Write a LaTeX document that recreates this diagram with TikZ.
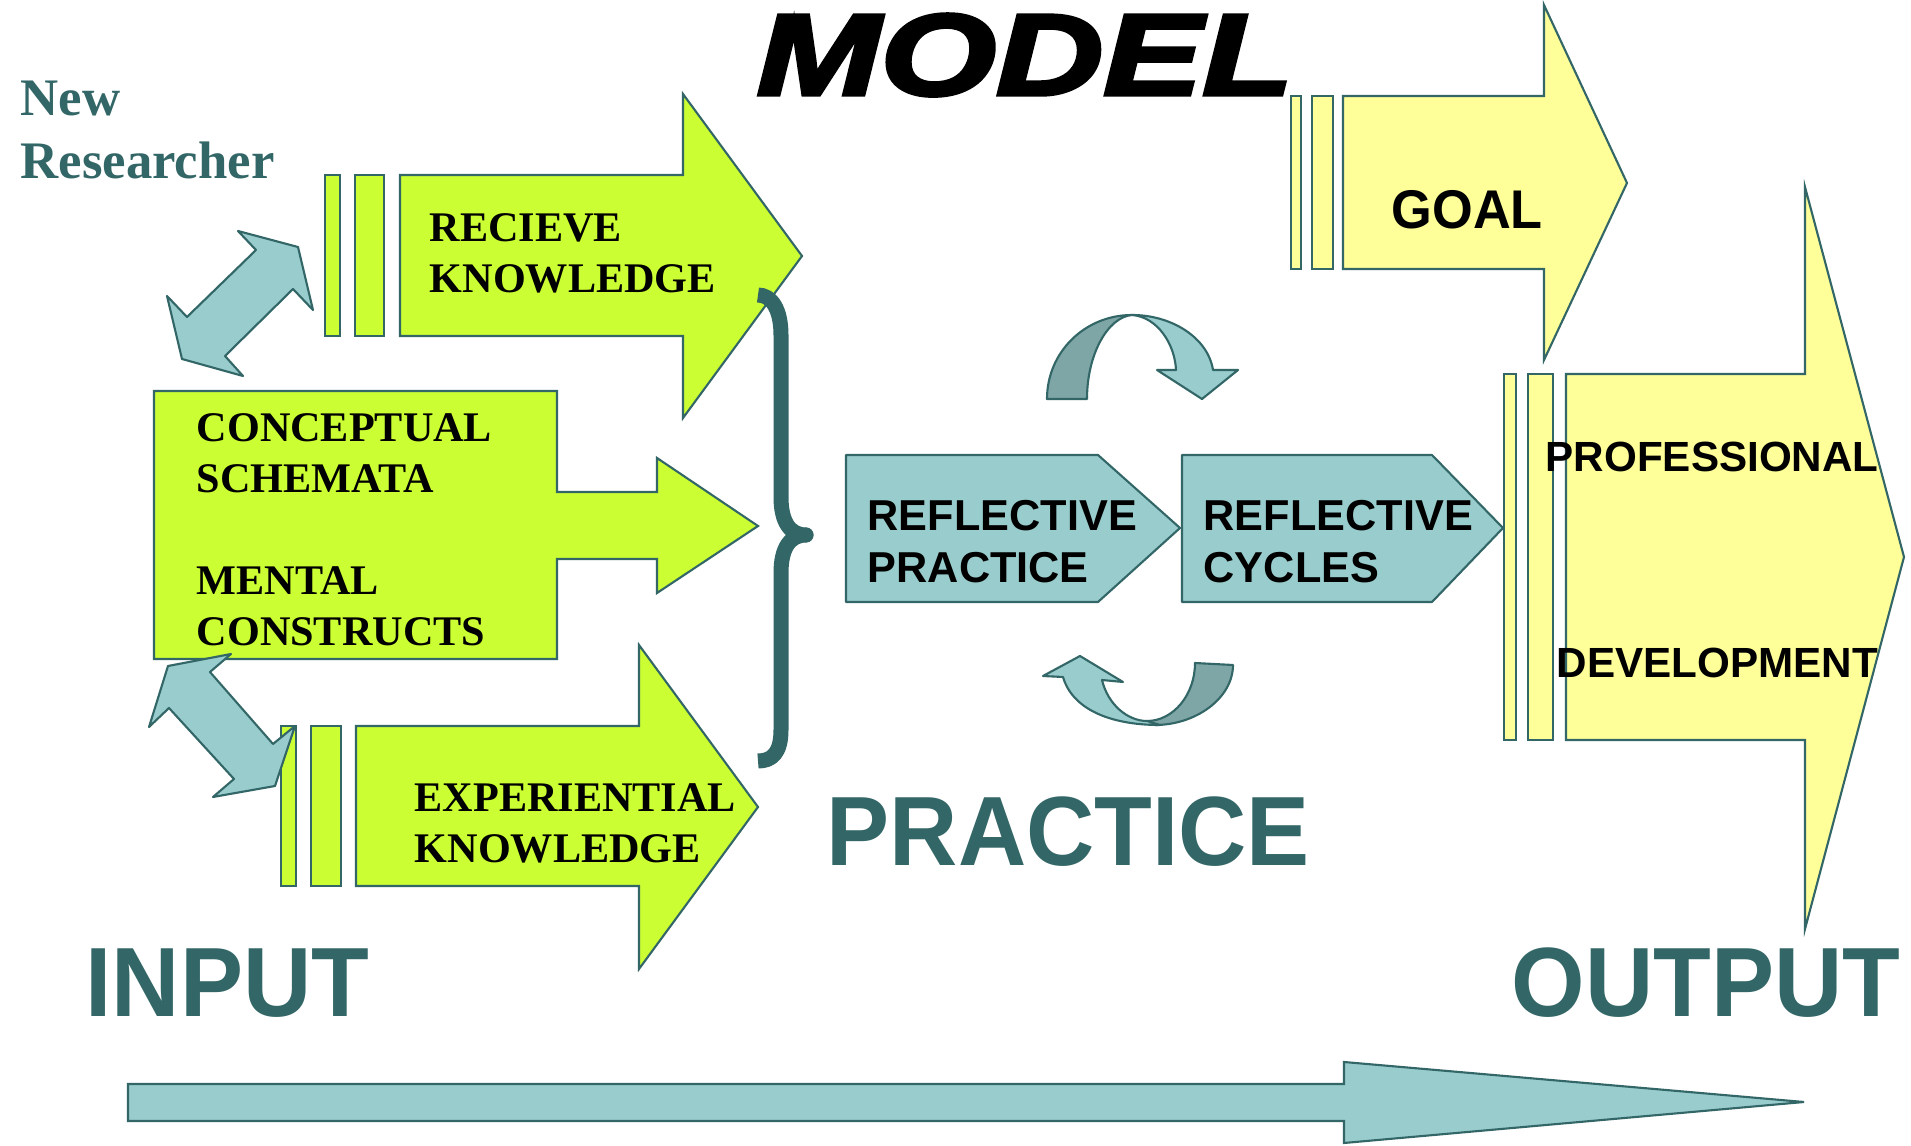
\documentclass[tikz,border=0pt]{standalone}
\usepackage{fontspec}
\usepackage{graphicx}
\setmainfont{Liberation Serif}
\setsansfont{Liberation Sans}
\newfontfamily\titlefont{Liberation Sans}[UprightFont={* Bold Italic}, FakeBold=3]
\usetikzlibrary{positioning}
\definecolor{limecolor}{RGB}{204,255,51}
\definecolor{goalcolor}{RGB}{255,255,153}
\definecolor{practicecolor}{RGB}{153,204,204}
\definecolor{ribboncolor}{RGB}{127,166,166}
\definecolor{edgecolor}{RGB}{51,102,102}

\begin{document}
\begin{tikzpicture}[
    x=0.01cm, y=-0.01cm,
    limeshape/.style={fill=limecolor, draw=edgecolor, line width=0.6pt},
    goalshape/.style={fill=goalcolor, draw=edgecolor, line width=0.6pt},
    tealshape/.style={fill=practicecolor, draw=edgecolor, line width=0.6pt, line join=round},
    ribbonshape/.style={fill=ribboncolor, draw=edgecolor, line width=0.6pt, line join=round},
    seriflabel/.style={inner sep=0pt, anchor=north west, align=left, font=\fontsize{12}{14.5}\selectfont\bfseries},
    sanslabel/.style={inner sep=0pt, anchor=north west, align=left, font=\fontsize{12.3}{14.8}\selectfont\sffamily\bfseries},
    bigword/.style={inner sep=0pt, anchor=base west, text=edgecolor, font=\fontsize{28}{32}\selectfont\sffamily\bfseries}
]

\fill[white] (0,0) rectangle (1911,1146);

% Title
\node[inner sep=0pt, anchor=base west, font=\fontsize{33}{36}\selectfont\titlefont] (model) at (756,95) {\scalebox{1.28}[1]{MODEL}};
\node[inner sep=0pt, anchor=north west, align=left, text=edgecolor, font=\fontsize{15}{17.9}\selectfont\bfseries] (researcher) at (20,80) {New\\Researcher};

% Input arrows
\draw[limeshape] (325,175) rectangle (340,336);
\draw[limeshape] (355,175) rectangle (384,336);
\draw[limeshape] (400,175) -- (683,175) -- (683,94) -- (802,256) -- (683,418) -- (683,336) -- (400,336) -- cycle;
\node[seriflabel] (recieve) at (429,213) {RECIEVE\\KNOWLEDGE};

\draw[limeshape] (154,391) -- (557,391) -- (557,492) -- (657,492) -- (657,458) -- (758,526) -- (657,593) -- (657,559) -- (557,559) -- (557,659) -- (154,659) -- cycle;
\node[seriflabel] (conceptual) at (196,413) {CONCEPTUAL\\SCHEMATA\\[14.5pt]MENTAL\\CONSTRUCTS};

\draw[limeshape] (281,726) rectangle (296,886);
\draw[limeshape] (311,726) rectangle (341,886);
\draw[limeshape] (356,726) -- (639,726) -- (639,645) -- (758,807) -- (639,969) -- (639,886) -- (356,886) -- cycle;
\node[seriflabel] (experiential) at (414,783) {EXPERIENTIAL\\KNOWLEDGE};

% Double arrows
\draw[tealshape] (238,231) -- (298,247) -- (313,310) -- (293,289) -- (225,356) -- (243,376) -- (182,359) -- (167,296) -- (187,317) -- (256,250) -- cycle;
\draw[tealshape] (231,654) -- (168,666) -- (149,727) -- (169,708) -- (234,779) -- (213,797) -- (275,786) -- (295,726) -- (273,744) -- (210,672) -- cycle;

% Brace
\draw[edgecolor, line width=0.15cm, line join=round] (758,295) .. controls (772,295) and (781,310) .. (781,335) -- (781,497) .. controls (781,522) and (790,535) .. (806,535) .. controls (790,535) and (781,548) .. (781,573) -- (781,730) .. controls (781,753) and (772,761) .. (758,761);
\fill[edgecolor] (806,535) circle[radius=0.075cm];

% Practice
\draw[tealshape] (846,455) -- (1098,455) -- (1180,528) -- (1098,602) -- (846,602) -- cycle;
\node[sanslabel] (refpractice) at (867,500) {REFLECTIVE\\PRACTICE};
\draw[tealshape] (1182,455) -- (1432,455) -- (1503,528) -- (1432,602) -- (1182,602) -- cycle;
\node[sanslabel] (refcycles) at (1203,500) {REFLECTIVE\\CYCLES};

% Cycle arrows
\draw[ribbonshape] (1047,399) .. controls (1047,352) and (1085,315) .. (1132,315) .. controls (1108,317) and (1087,354) .. (1087,399) -- cycle;
\draw[tealshape] (1132,315) .. controls (1172,315) and (1208,338) .. (1213,370) -- (1238,370) -- (1202,399) -- (1157,370) -- (1176,370) .. controls (1175,345) and (1158,317) .. (1132,315) -- cycle;

\draw[ribbonshape] (1147,721) .. controls (1173,721) and (1195,695) .. (1195,663) -- (1233,665) .. controls (1233,698) and (1196,725) .. (1155,725) -- cycle;
\draw[tealshape] (1063,677) -- (1043,676) -- (1080,656) -- (1123,682) -- (1102,680) .. controls (1108,705) and (1128,721) .. (1147,721) -- (1160,725) .. controls (1108,725) and (1072,708) .. (1063,677) -- cycle;

% Output arrows
\draw[goalshape] (1291,96) rectangle (1301,269);
\draw[goalshape] (1312,96) rectangle (1333,269);
\draw[goalshape] (1343,96) -- (1544,96) -- (1544,5) -- (1627,183) -- (1544,360) -- (1544,269) -- (1343,269) -- cycle;
\node[inner sep=0pt, anchor=north west, font=\fontsize{15.5}{18}\selectfont\sffamily\bfseries] (goal) at (1391,190) {\scalebox{0.96}[1]{GOAL}};

\draw[goalshape] (1504,374) rectangle (1516,740);
\draw[goalshape] (1528,374) rectangle (1553,740);
\draw[goalshape] (1566,374) -- (1805,374) -- (1805,187) -- (1904,557) -- (1805,929) -- (1805,740) -- (1566,740) -- cycle;
\node[inner sep=0pt, anchor=north west, font=\fontsize{12}{14}\selectfont\sffamily\bfseries] (professional) at (1545,441) {PROFESSIONAL};
\node[inner sep=0pt, anchor=north west, font=\fontsize{12}{14}\selectfont\sffamily\bfseries] (development) at (1556,647) {DEVELOPMENT};

% Layer labels
\node[bigword] (input) at (85,1017) {\scalebox{0.96}[1]{INPUT}};
\node[bigword] (practice) at (826,866) {\scalebox{0.96}[1]{PRACTICE}};
\node[bigword] (output) at (1511,1017) {\scalebox{0.96}[1]{OUTPUT}};

% Flow arrow
\draw[tealshape, line join=miter] (128,1084) -- (1344,1084) -- (1344,1062) -- (1804,1102) -- (1344,1143) -- (1344,1121) -- (128,1121) -- cycle;

\end{tikzpicture}
\end{document}
